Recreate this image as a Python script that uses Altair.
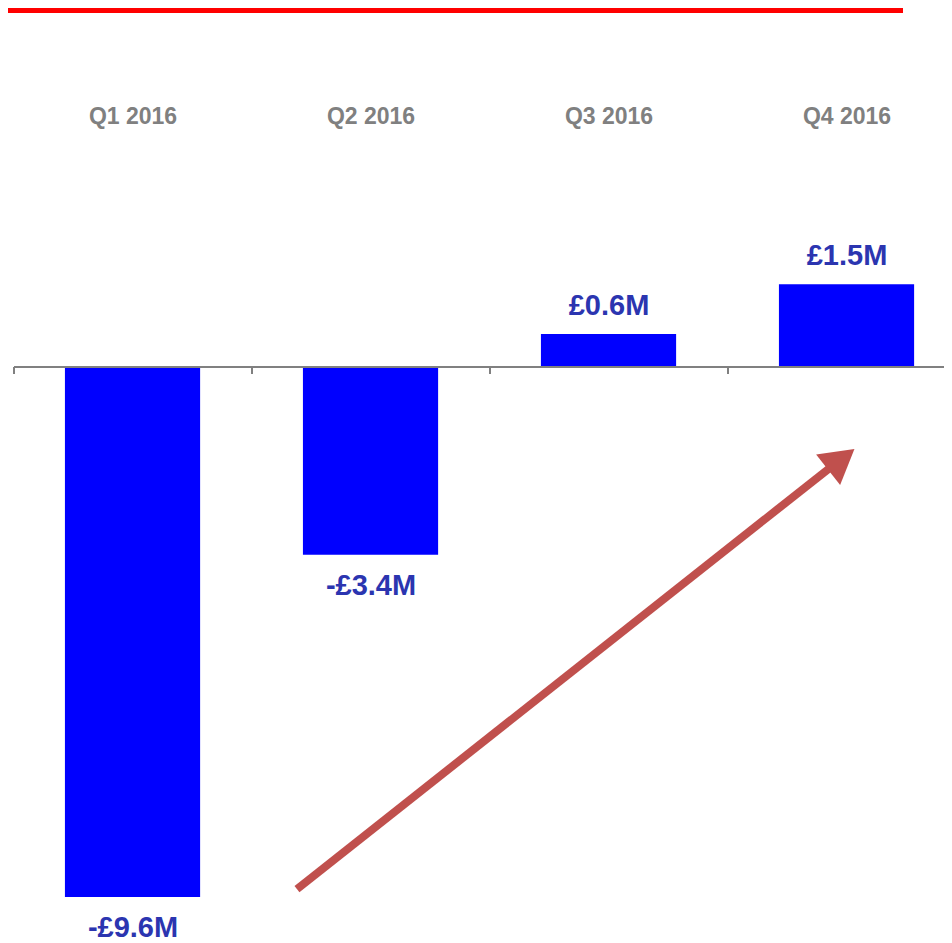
import altair as alt
import pandas as pd

# ---- data ----
quarters = ["Q1 2016", "Q2 2016", "Q3 2016", "Q4 2016"]
values = [-9.6, -3.4, 0.6, 1.5]
labels = ["-£9.6M", "-£3.4M", "£0.6M", "£1.5M"]

# arrow (in data units: x = band index units, y = £M)
arrow_x = [1.189, 3.475]
arrow_y = [-9.457, -1.667]
arrow_head_x = [3.476]
arrow_head_y = [-1.674]

tick_pos = [0, 1, 2, 3]

# ---- tables ----
df = pd.DataFrame({"quarter": quarters, "value": values, "label": labels})
df["idx"] = range(len(df))
df["x0"] = df["idx"] + 0.214
df["x1"] = df["idx"] + 0.782
df["xc"] = df["idx"] + 0.5
df["zero"] = 0.0

W = 930
H = 935
BAND = 238.0
PX_PER_M = 55.2
ZERO_Y = 359.0

XMAX = W / BAND
YMAX = ZERO_Y / PX_PER_M
YMIN = -(H - ZERO_Y) / PX_PER_M

arrow_df = pd.DataFrame({"x": arrow_x, "y": arrow_y, "o": [0, 1]})
head_df = pd.DataFrame({"x": arrow_head_x, "y": arrow_head_y})
ticks_df = pd.DataFrame({"x": tick_pos, "y0": [0.0] * 4, "y1": [-0.127] * 4})
axis_df = pd.DataFrame({"x0": [0.0], "x1": [XMAX], "y": [0.0]})

xs = alt.Scale(domain=[0, XMAX], nice=False, zero=False)
ys = alt.Scale(domain=[YMIN, YMAX], nice=False, zero=False)

FONT = "Liberation Sans"

base = alt.Chart(df)

red_line = alt.Chart(axis_df).mark_rule(color="#FF0000", strokeWidth=8).encode(
    x=alt.value(-10), x2=alt.value(889), y=alt.value(1)
)

bars = base.mark_rect(color="#0000FF").encode(
    x=alt.X("x0:Q", scale=xs, axis=None),
    x2="x1:Q",
    y=alt.Y("zero:Q", scale=ys, axis=None),
    y2="value:Q",
)

zero_line = alt.Chart(axis_df).mark_rule(color="#808080", strokeWidth=2).encode(
    x=alt.X("x0:Q", scale=xs, axis=None),
    x2="x1:Q",
    y=alt.Y("y:Q", scale=ys, axis=None),
)

ticks = alt.Chart(ticks_df).mark_rule(color="#808080", strokeWidth=2).encode(
    x=alt.X("x:Q", scale=xs, axis=None),
    y=alt.Y("y0:Q", scale=ys, axis=None),
    y2="y1:Q",
)

headers = base.mark_text(
    font=FONT, fontSize=23, fontWeight="bold", color="#808080", baseline="middle"
).encode(
    x=alt.X("xc:Q", scale=xs, axis=None),
    y=alt.value(109),
    text="quarter:N",
)

pos_labels = base.transform_filter("datum.value >= 0").mark_text(
    font=FONT, fontSize=29, fontWeight="bold", color="#2B35B0", baseline="middle", dy=-28
).encode(
    x=alt.X("xc:Q", scale=xs, axis=None),
    y=alt.Y("value:Q", scale=ys, axis=None),
    text="label:N",
)

neg_labels = base.transform_filter("datum.value < 0").mark_text(
    font=FONT, fontSize=29, fontWeight="bold", color="#2B35B0", baseline="middle", dy=31
).encode(
    x=alt.X("xc:Q", scale=xs, axis=None),
    y=alt.Y("value:Q", scale=ys, axis=None),
    text="label:N",
)

arrow_line = alt.Chart(arrow_df).mark_line(
    color="#C0504D", strokeWidth=8, strokeCap="butt"
).encode(
    x=alt.X("x:Q", scale=xs, axis=None),
    y=alt.Y("y:Q", scale=ys, axis=None),
    order="o:O",
)

arrow_head = alt.Chart(head_df).mark_point(
    shape="triangle-up", filled=True, color="#C0504D", opacity=1, size=1500, angle=51.7
).encode(
    x=alt.X("x:Q", scale=xs, axis=None),
    y=alt.Y("y:Q", scale=ys, axis=None),
)

chart = alt.layer(
    red_line, bars, zero_line, ticks, headers, pos_labels, neg_labels,
    arrow_line, arrow_head,
).properties(
    width=W,
    height=H,
    autosize=alt.AutoSizeParams(type="none"),
    padding={"left": 6, "top": 0, "right": 0, "bottom": 0},
).configure_view(stroke=None)

chart.save("out.html", embed_options={"renderer": "svg", "actions": False})
